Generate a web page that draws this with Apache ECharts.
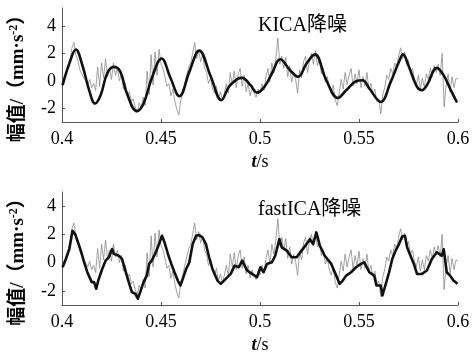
<!DOCTYPE html>
<html>
<head>
<meta charset="utf-8">
<script src="https://cdn.jsdelivr.net/npm/echarts@6/dist/echarts.min.js"></script>
<style>
  html, body { margin: 0; padding: 0; background: #fff; }
  #chart { width: 474px; height: 357px; }
</style>
</head>
<body>
<div id="chart"></div>
<script>
// Measured (noisy) vibration signal, sampled every 1 ms from t = 0.400 s
const rawStart = 0.4;
const rawStep = 0.001;
const rawSignal = [
  -0.3, 0.1, 0.5, 0.9, 1.3, 2.4, 2.8, 1.9, 1.5, 0.8,
  0.5, 0.2, 0.0, -0.3, 0.1, -0.5, -0.2, -0.7, 1.0, -0.4,
  1.3, 0.2, 1.6, 0.3, 0.9, 0.1, 1.3, 0.4, 0.9, 0.0,
  0.5, -0.6, -0.2, -1.1, -0.8, -1.5, -1.3, -1.9, -2.3, -1.6,
  -2.0, -1.2, -1.8, 0.7, -1.0, 1.9, -0.3, 2.1, 0.4, 2.3,
  1.2, 0.9, 0.3, -0.4, -0.2, -1.1, -0.6, -1.5, -2.1, -2.5,
  -1.4, -0.9, -0.2, 0.4, 1.0, 1.3, 2.0, 2.8, 1.6, 2.2,
  1.4, 1.9, 0.9, 0.6, -0.2, 0.2, -0.6, -0.9, -0.4, -1.3,
  -0.8, -1.4, -0.9, -0.2, -0.9, 0.6, -0.3, 0.7, -0.5, 0.5,
  0.9, -0.4, 0.4, -0.8, -0.2, -1.1, -0.5, -0.9, -1.2, -0.6,
  -0.9, -0.2, -0.7, 0.3, 0.9, -0.1, 1.3, 0.6, 1.6, 3.1,
  1.2, 1.8, 0.9, 1.7, 0.3, 1.1, -0.1, 0.6, 0.1, -0.9,
  0.8, 0.2, 1.4, 1.8, 0.6, 1.5, 2.0, 1.2, 2.2, 1.1,
  1.6, 0.5, 0.9, -0.1, 0.3, -0.5, -0.9, -0.3, -1.4, -1.8,
  -0.9, 0.1, -0.6, 0.6, -0.3, 0.4, 0.9, -0.4, 0.5, -0.2,
  0.8, -0.5, 0.3, -0.4, 0.6, -0.6, -0.2, -1.0, -0.6, -1.5,
  -1.3, -2.4, -1.0, -0.5, 0.4, 0.1, 0.9, 0.5, 1.3, 1.0,
  1.8, 2.4, 1.6, 2.1, 1.2, 1.5, 0.6, 0.9, 0.1, -0.3,
  0.4, -0.6, 0.2, -0.5, 0.5, 0.1, 0.9, 0.3, 1.1, 0.6,
  1.2, 0.4, 2.0, -1.9, -0.3, 0.5, -0.8, 0.3, -0.5, 0.2,
  0.1
];

// KICA denoised signal
const kicaTime = [
  0.4003, 0.4037, 0.4070, 0.4103, 0.4137, 0.4167, 0.4195, 0.4228, 0.4262, 0.4295,
  0.4328, 0.4378, 0.4412, 0.4453, 0.4503, 0.4548, 0.4593, 0.4643, 0.4693, 0.4752,
  0.4805, 0.4843, 0.4885, 0.4910, 0.4952, 0.4985, 0.5022, 0.5060, 0.5102, 0.5152,
  0.5193, 0.5235, 0.5277, 0.5335, 0.5393, 0.5435, 0.5485, 0.5518, 0.5552, 0.5610,
  0.5660, 0.5702, 0.5722, 0.5752, 0.5793, 0.5818, 0.5843, 0.5893, 0.5927, 0.5968,
  0.5995
];
const kicaValue = [
  -0.32, 1.26, 2.28, 1.13, -0.68, -1.65, -1.05, 0.53, 1.01, 0.65,
  -0.93, -2.21, -1.65, 0.17, 1.62, 0.20, -1.12, 0.65, 2.20, 0.29,
  -1.41, -0.44, 0.12, 0.21, -0.32, -0.86, -0.44, 0.53, 1.57, 0.77,
  0.29, 1.26, 1.92, 0.04, -1.25, -0.69, -0.03, 0.04, -0.56, -1.54,
  -0.08, 1.38, 1.92, 1.02, -0.44, -0.69, -0.32, 0.94, 0.41, -0.81,
  -1.58
];

// fastICA denoised signal
const fastTime = [
  0.4003, 0.4020, 0.4037, 0.4053, 0.4067, 0.4078, 0.4095, 0.4112, 0.4128, 0.4150,
  0.4162, 0.4173, 0.4183, 0.4203, 0.4220, 0.4237, 0.4253, 0.4262, 0.4270, 0.4287,
  0.4303, 0.4320, 0.4337, 0.4353, 0.4370, 0.4383, 0.4395, 0.4412, 0.4428, 0.4440,
  0.4453, 0.4470, 0.4487, 0.4505, 0.4518, 0.4535, 0.4552, 0.4568, 0.4585, 0.4598,
  0.4610, 0.4627, 0.4643, 0.4660, 0.4677, 0.4693, 0.4710, 0.4727, 0.4743, 0.4760,
  0.4785, 0.4802, 0.4827, 0.4852, 0.4872, 0.4893, 0.4910, 0.4935, 0.4960, 0.4985,
  0.5002, 0.5018, 0.5035, 0.5060, 0.5077, 0.5098, 0.5110, 0.5135, 0.5160, 0.5185,
  0.5210, 0.5235, 0.5252, 0.5268, 0.5285, 0.5302, 0.5327, 0.5360, 0.5385, 0.5402,
  0.5418, 0.5435, 0.5460, 0.5485, 0.5510, 0.5527, 0.5552, 0.5577, 0.5588, 0.5610,
  0.5618, 0.5638, 0.5652, 0.5668, 0.5685, 0.5702, 0.5718, 0.5732, 0.5743, 0.5760,
  0.5777, 0.5793, 0.5818, 0.5843, 0.5868, 0.5893, 0.5918, 0.5928, 0.5943, 0.5960,
  0.5977, 0.5998
];
const fastValue = [
  -0.33, 0.26, 0.96, 2.25, 2.00, 1.55, 0.85, 0.02, -0.68, -1.38,
  -1.38, -1.85, -1.27, -0.45, 0.14, 0.38, 0.96, 0.62, 0.73, 0.49,
  0.26, -0.56, -1.38, -2.09, -2.20, -2.56, -2.09, -1.38, -0.92, -0.09,
  0.14, 0.61, 1.20, 1.90, 1.43, 0.61, -0.09, -0.68, -1.27, -1.62,
  -1.15, -0.45, 0.02, 1.31, 1.90, 1.95, 1.78, 1.31, 0.38, -0.45,
  -1.27, -1.50, -1.15, -0.80, -0.21, -0.33, 0.14, -0.56, -0.80, -1.03,
  -0.33, -0.68, -0.09, 0.02, 0.49, 1.66, 1.08, 0.85, 0.38, 0.38,
  0.85, 1.31, 1.66, 1.31, 2.14, 1.20, 0.49, -0.09, -0.92, -1.50,
  -1.27, -0.92, -0.68, -0.33, -0.09, 0.02, -0.68, -0.92, -1.62, -1.62,
  -2.33, -1.38, -0.68, 0.26, 0.85, 1.31, 1.85, 1.90, 1.08, 0.49,
  -0.09, -0.80, -0.80, -0.56, 0.26, 0.73, 0.49, 0.95, -0.68, -0.92,
  -1.27, -1.50
];

const xTicks = [0.4, 0.45, 0.5, 0.55, 0.6];
const yTicks = [-2, 0, 2, 4];
const panelTitles = ['KICA降噪', 'fastICA降噪'];

const serif = '"Liberation Serif", "Times New Roman", "Noto Sans CJK SC", serif';
const rawData = rawSignal.map((v, i) => [+(rawStart + i * rawStep).toFixed(3), v]);
const zip = (t, v) => t.map((x, i) => [x, v[i]]);

function xAxisFor(gridIndex) {
  return {
    type: 'value', gridIndex, min: 0.4, max: 0.6,
    name: '{t|t}{s|/s}', nameLocation: 'middle', nameGap: 31,
    nameTextStyle: {
      rich: {
        t: { fontFamily: serif, fontSize: 18, fontWeight: 'bold', fontStyle: 'italic', color: '#000' },
        s: { fontFamily: serif, fontSize: 18, color: '#000' }
      }
    },
    axisLine: { onZero: false, lineStyle: { color: '#555', width: 1 } },
    axisTick: { inside: true, length: 3, customValues: xTicks, lineStyle: { color: '#555' } },
    axisLabel: {
      customValues: xTicks, margin: 8, color: '#000', fontFamily: serif, fontSize: 18,
      formatter: v => String(+v.toFixed(2))
    },
    splitLine: { show: false }
  };
}

function yAxisFor(gridIndex, max) {
  return {
    type: 'value', gridIndex, min: -3, max,
    name: '{c|幅值/（mm·s}{p|-2}{c|）}', nameLocation: 'middle', nameGap: 34, nameRotate: 90,
    nameTextStyle: {
      padding: [0, 18, 0, 0],
      rich: {
        c: { fontFamily: serif, fontSize: 19, fontWeight: 'bold', color: '#000' },
        p: { fontFamily: serif, fontSize: 12, fontWeight: 'bold', color: '#000', verticalAlign: 'top', padding: [0, 0, 8, 0] }
      }
    },
    axisLine: { show: true, onZero: false, lineStyle: { color: '#555', width: 1 } },
    axisTick: { show: true, inside: true, length: 3, customValues: yTicks, lineStyle: { color: '#555' } },
    axisLabel: { customValues: yTicks, margin: 6, color: '#000', fontFamily: serif, fontSize: 18 },
    splitLine: { show: false }
  };
}

const chart = echarts.init(document.getElementById('chart'), null, { renderer: 'canvas' });
chart.setOption({
  animation: false,
  backgroundColor: '#fff',
  title: panelTitles.map((text, i) => ({
    text, left: 258, top: i === 0 ? 16 : 200, padding: 0,
    textStyle: { fontFamily: serif, fontSize: 20, fontWeight: 'normal', color: '#000' }
  })),
  grid: [
    { left: 58, top: 8, width: 400, height: 114 },
    { left: 58, top: 192, width: 400, height: 113 }
  ],
  xAxis: [xAxisFor(0), xAxisFor(1)],
  yAxis: [yAxisFor(0, 5.3), yAxisFor(1, 5)],
  series: [
    { type: 'line', xAxisIndex: 0, yAxisIndex: 0, data: rawData, showSymbol: false,
      lineStyle: { color: '#8a8a8a', width: 0.8 }, z: 1 },
    { type: 'line', xAxisIndex: 0, yAxisIndex: 0, data: zip(kicaTime, kicaValue), showSymbol: false,
      smooth: 0.4, lineStyle: { color: '#111', width: 2.6 }, z: 2 },
    { type: 'line', xAxisIndex: 1, yAxisIndex: 1, data: rawData, showSymbol: false,
      lineStyle: { color: '#8a8a8a', width: 0.8 }, z: 1 },
    { type: 'line', xAxisIndex: 1, yAxisIndex: 1, data: zip(fastTime, fastValue), showSymbol: false,
      lineStyle: { color: '#111', width: 2.6, join: 'round' }, z: 2 }
  ]
});
</script>
</body>
</html>
